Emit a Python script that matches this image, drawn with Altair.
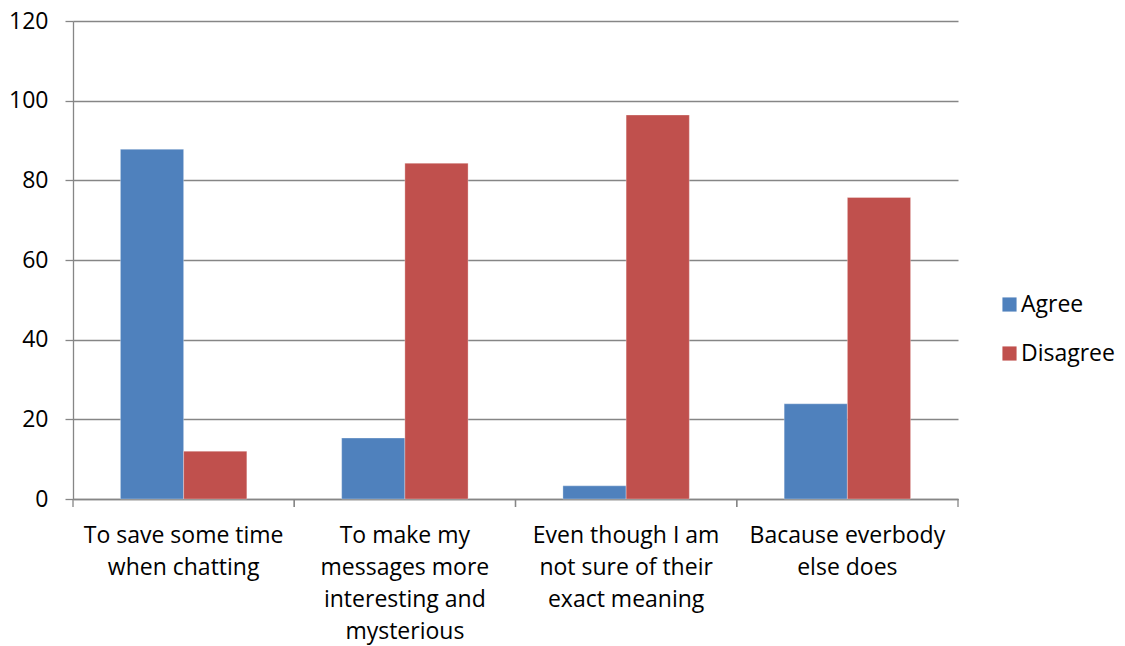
import altair as alt
import pandas as pd

# Survey responses (percent) per reason for using abbreviations
reasons = [
    "To save some time|when chatting",
    "To make my|messages more|interesting and|mysterious",
    "Even though I am|not sure of their|exact meaning",
    "Bacause everbody|else does",
]
agree = [87.8, 15.3, 3.3, 23.9]
disagree = [12.0, 84.3, 96.4, 75.7]
series = ["Agree", "Disagree"]
colors = ["#4F81BD", "#C0504D"]
y_ticks = [0, 20, 40, 60, 80, 100, 120]

rows = []
for r, a, d in zip(reasons, agree, disagree):
    rows.append({"reason": r, "series": "Agree", "value": a})
    rows.append({"reason": r, "series": "Disagree", "value": d})
df = pd.DataFrame(rows)
cats = pd.DataFrame({"reason": reasons})

FONT = "Open Sans"
FS = 23
GRID = "#868686"
W, H = 885, 478

x_scale = alt.Scale(domain=reasons, paddingInner=0, paddingOuter=0)

bars = alt.Chart(df).mark_bar(stroke="white", strokeOpacity=0.5, strokeWidth=0.6).encode(
    x=alt.X(
        "reason:N",
        scale=x_scale,
        sort=reasons,
        title=None,
        axis=alt.Axis(
            labelExpr="split(datum.label, '|')",
            labelAngle=0,
            labelFont=FONT,
            labelFontSize=FS,
            labelColor="#000000",
            labelLineHeight=32,
            labelPadding=25,
            labelBaseline="top",
            labelLimit=0,
            ticks=False,
            domainColor=GRID,
            domainWidth=1.3,
            grid=False,
        ),
    ),
    xOffset=alt.XOffset(
        "series:N",
        sort=series,
        scale=alt.Scale(domain=series, paddingInner=0, paddingOuter=0.75),
    ),
    y=alt.Y(
        "value:Q",
        scale=alt.Scale(domain=[0, 120], nice=False),
        title=None,
        axis=alt.Axis(
            values=y_ticks,
            labelFont=FONT,
            labelFontSize=FS,
            labelColor="#000000",
            labelPadding=17,
            tickSize=8,
            tickColor=GRID,
            tickWidth=1.3,
            domainColor=GRID,
            domainWidth=1.3,
            gridColor=GRID,
            gridWidth=1.3,
        ),
    ),
    color=alt.Color(
        "series:N",
        scale=alt.Scale(domain=series, range=colors),
        legend=alt.Legend(
            title=None,
            orient="none",
            legendX=925,
            legendY=272,
            symbolType="square",
            symbolSize=200,
            symbolStrokeWidth=0,
            labelFont=FONT,
            labelFontSize=FS,
            labelColor="#000000",
            labelOffset=0,
            rowPadding=25,
        ),
    ),
)

# Category boundary ticks below the x axis
tick_start = alt.Chart(cats).mark_rule(color=GRID, strokeWidth=1.3).encode(
    x=alt.X("reason:N", scale=x_scale, sort=reasons, bandPosition=0),
    y=alt.value(H),
    y2=alt.value(H + 8),
)
tick_end = alt.Chart(cats).mark_rule(color=GRID, strokeWidth=1.3).encode(
    x=alt.X("reason:N", scale=x_scale, sort=reasons, bandPosition=1),
    y=alt.value(H),
    y2=alt.value(H + 8),
)

chart = (
    alt.layer(bars, tick_start, tick_end)
    .properties(
        width=W,
        height=H,
        autosize=alt.AutoSizeParams(type="none"),
        padding={"left": 73, "top": 21, "right": 1125 - 73 - W, "bottom": 646 - 21 - H},
        background="white",
    )
    .configure_view(stroke=None)
)

chart.save("out.html", embed_options={"renderer": "svg", "actions": False})
